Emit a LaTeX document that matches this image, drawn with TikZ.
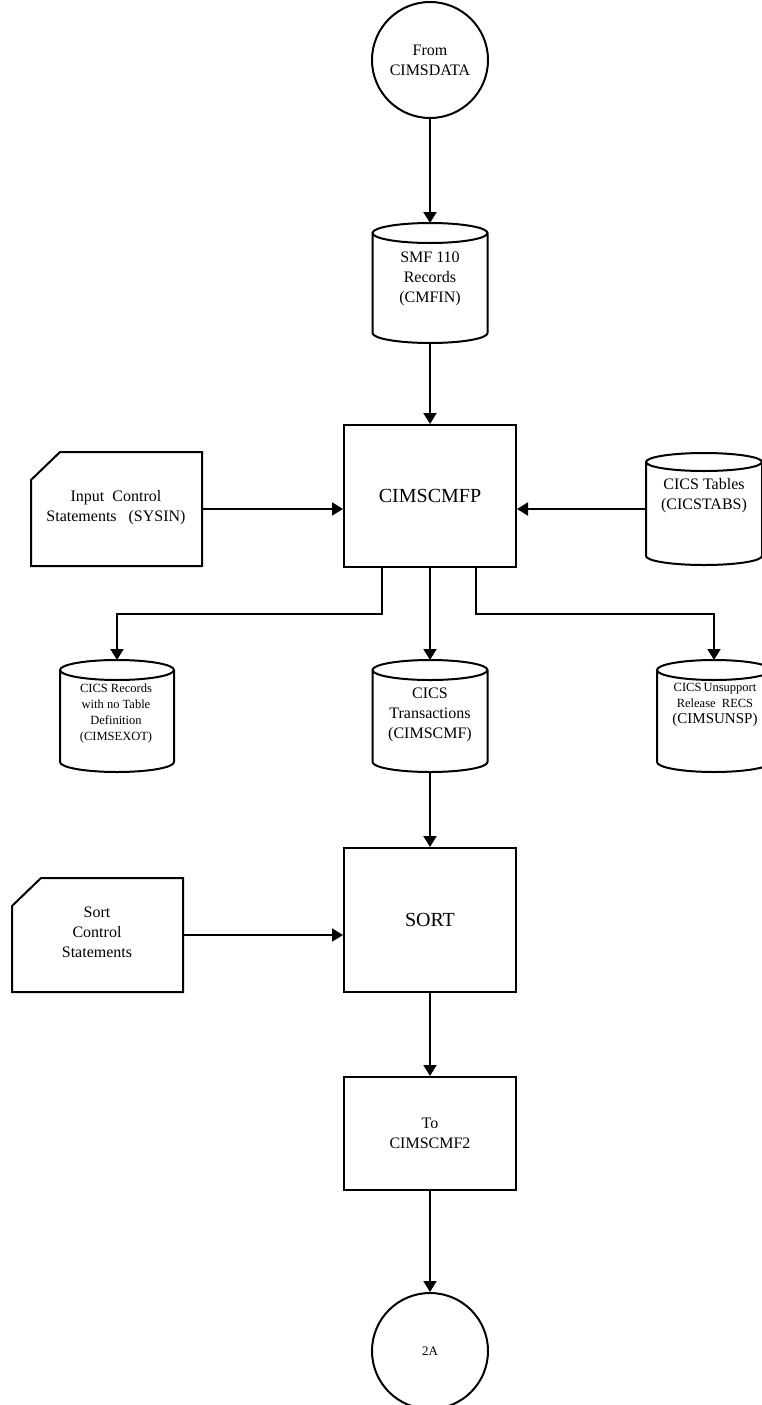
\documentclass[tikz,border=0pt]{standalone}
\usepackage{fontspec}
\setmainfont{Liberation Serif}
\usetikzlibrary{arrows.meta,calc}
\newcommand\cylshape[2]{%
  \draw let \p1=(#1.north west), \p2=(#1.south east), \n1={(\x2-\x1)/2} in
    ({(\x1+\x2)/2},\y1-#2) ellipse [x radius=\n1, y radius=#2]
    (\x1,\y1-#2) -- (\x1,\y2+#2) arc[start angle=180, end angle=360, x radius=\n1, y radius=#2] -- (\x2,\y1-#2);}
\newcommand\cardshape[1]{%
  \draw ($(#1.north west)+(29,0)$) -- (#1.north east) -- (#1.south east) -- (#1.south west) -- ($(#1.north west)+(0,28)$) -- cycle;}
\begin{document}
\begin{tikzpicture}[x=1pt,y=-1pt,line width=2pt,
  txt/.style={align=center,inner sep=0pt,font=\fontsize{16}{20}\selectfont},
  smalltxt/.style={align=center,inner sep=0pt,font=\fontsize{12.5}{16}\selectfont},
  box/.style={draw,rectangle,minimum width=172pt,inner sep=0pt,align=center},
  bigtxt/.style={font=\fontsize{20}{24}\selectfont},
  circ/.style={draw,circle,minimum size=116pt,inner sep=0pt,align=center},
  shapenode/.style={rectangle,inner sep=0pt,outer sep=0pt,draw=none},
  arr/.style={-{Triangle[width=13pt,length=11pt]},line width=2pt}]
\useasboundingbox (0,0) rectangle (762,1405);

% top connector circle
\node[circ,txt] (from) at (430,60) {From\\CIMSDATA};

% SMF cylinder
\node[shapenode,minimum width=115pt,minimum height=120pt] (smf) at (430,283) {};
\cylshape{smf}{10pt}
\node[txt] (smfT) at (430,279) {SMF 110\\Records\\(CMFIN)};

% program box
\node[box,minimum height=142pt,bigtxt] (cmfp) at (430,496) {CIMSCMFP};

% input card
\node[shapenode,minimum width=171pt,minimum height=114pt] (input) at (116.5,509) {};
\cardshape{input}
\node[txt] (inputT) at (116,508) {Input\ \ Control\\Statements\ \ \ (SYSIN)};

% CICS tables cylinder
\node[shapenode,minimum width=116pt,minimum height=112pt] (tables) at (704,509) {};
\cylshape{tables}{9pt}
\node[txt] (tablesT) at (704,496) {CICS Tables\\(CICSTABS)};

% output cylinders
\node[shapenode,minimum width=114pt,minimum height=112pt] (exot) at (117,716) {};
\cylshape{exot}{10pt}
\node[smalltxt] (exotT) at (116,713) {CICS Records\\with no Table\\Definition\\(CIMSEXOT)};

\node[shapenode,minimum width=115pt,minimum height=112pt] (cmf) at (430,716) {};
\cylshape{cmf}{10pt}
\node[txt] (cmfT) at (430,715) {CICS\\Transactions\\(CIMSCMF)};

\node[shapenode,minimum width=114pt,minimum height=112pt] (unsp) at (714,716) {};
\cylshape{unsp}{10pt}
\node[smalltxt] (unspT) at (715,705) {CICS\,Unsupport\\Release\ \ RECS\\{\fontsize{15}{16}\selectfont (CIMSUNSP)}};

% sort
\node[box,minimum height=144pt,bigtxt] (sort) at (430,920) {SORT};
\node[shapenode,minimum width=171pt,minimum height=114pt] (sortcard) at (97.5,935) {};
\cardshape{sortcard}
\node[txt] (sortcardT) at (97,932) {Sort\\Control\\Statements};

% to CIMSCMF2
\node[box,minimum height=113pt,txt] (to) at (430,1133.5) {To\\CIMSCMF2};

% bottom connector circle
\node[circ,font=\fontsize{13}{16}\selectfont] (twoA) at (430,1351) {2A};

% connectors
\draw[arr] (from.south) -- (smf.north);
\draw[arr] (smf.south) -- (cmfp.north);
\draw[arr] (input.east) -- (input.east -| cmfp.west);
\draw[arr] (tables.west) -- (tables.west -| cmfp.east);
\draw[arr] ($(cmfp.south)+(-48,0)$) -- ++(0,46) -| (exot.north);
\draw[arr] (cmfp.south) -- (cmf.north);
\draw[arr] ($(cmfp.south)+(46,0)$) -- ++(0,46) -| (unsp.north);
\draw[arr] (cmf.south) -- (sort.north);
\draw[arr] (sortcard.east) -- (sortcard.east -| sort.west);
\draw[arr] (sort.south) -- (to.north);
\draw[arr] (to.south) -- (twoA.north);
\end{tikzpicture}
\end{document}
